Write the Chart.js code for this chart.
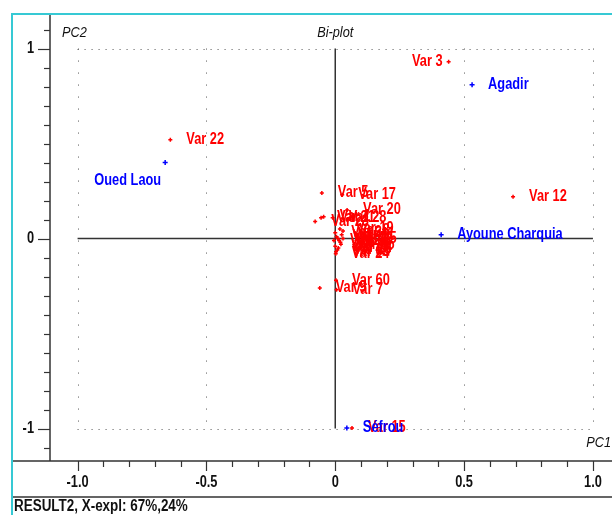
<!DOCTYPE html>
<html>
<head>
<meta charset="utf-8">
<script src="https://cdn.jsdelivr.net/npm/chart.js@4.4.0/dist/chart.umd.min.js"></script>
<style>
  html, body { margin: 0; padding: 0; background: #fff; }
  canvas { display: block; }
</style>
</head>
<body>
<canvas id="biplot" width="612" height="515"></canvas>
<script>
const objNames = ['Agadir', 'Oued Laou', 'Ayoune Charquia', 'Séfrou']
const objPC1 = [0.531, -0.66, 0.411, 0.045]
const objPC2 = [0.81, 0.40, 0.02, -0.997]

const varNames = ['Var 3', 'Var 22', 'Var 12', 'Var 15', 'Var 5', 'Var 17', 'Var 20', 'Var 23',
  'Var 21', 'Var 28', 'Var 1', 'Var 9', 'Var 60', 'Var 7', 'Var 63',
  'Var 2', 'Var 4', 'Var 6', 'Var 8', 'Var 10', 'Var 11', 'Var 13', 'Var 14', 'Var 16',
  'Var 18', 'Var 19', 'Var 24', 'Var 25', 'Var 26', 'Var 27']
const varPC1 = [0.44, -0.64, 0.69, 0.065, -0.052, 0.027, 0.046, -0.078,
  -0.055, -0.01, -0.045, -0.06, 0.003, 0.005, 0.003,
  0.0, 0.01, 0.02, 0.03, 0.015, 0.025, 0.0, 0.012, 0.022,
  0.005, 0.018, 0.002, 0.03, 0.008, -0.005]
const varPC2 = [0.93, 0.52, 0.22, -0.997, 0.24, 0.23, 0.15, 0.09,
  0.11, 0.11, 0.115, -0.26, -0.22, -0.27, -0.07,
  0.03, 0.0, -0.02, 0.04, -0.01, 0.02, -0.04, -0.05, -0.03,
  0.01, 0.05, -0.08, 0.0, -0.06, -0.01]

const xMajor = [-1.0, -0.5, 0, 0.5, 1.0]
const xMajorLabels = ['-1.0', '-0.5', '0', '0.5', '1.0']
const yMajor = [1, 0, -1]
const yMajorLabels = ['1', '0', '-1']

const toPoints = (xs, ys) => xs.map((x, i) => ({ x: x, y: ys[i] }))

const FONT = "'Liberation Sans', Arial, sans-serif"
const SQUEEZE = 0.8

// labels go right of the point unless noted
const leftLabels = { 'Var 3': [-6, 0], 'Oued Laou': [-4, 18] }

// the original uses a narrow face, so squeeze the text horizontally
function narrowText(ctx, text, x, y, align, sx) {
  const w = ctx.measureText(text).width * sx
  let left = x
  if (align === 'center') left = x - w / 2
  if (align === 'right') left = x - w
  ctx.save()
  ctx.translate(left, y)
  ctx.scale(sx, 1)
  ctx.textAlign = 'left'
  ctx.fillText(text, 0, 0)
  ctx.restore()
}

const biplotFrame = {
  id: 'biplotFrame',
  beforeDatasetsDraw(chart) {
    const ctx = chart.ctx
    const xs = chart.scales.x
    const ys = chart.scales.y
    const a = chart.chartArea
    const px = v => xs.getPixelForValue(v)
    const py = v => ys.getPixelForValue(v)
    ctx.save()

    // dotted grid
    ctx.strokeStyle = '#555'
    ctx.lineWidth = 1
    ctx.setLineDash([1, 11])
    ;[-1, -0.5, 0.5, 1].forEach(v => {
      ctx.beginPath()
      ctx.moveTo(Math.round(px(v)) + 0.5, py(1))
      ctx.lineTo(Math.round(px(v)) + 0.5, py(-1))
      ctx.stroke()
    })
    ctx.setLineDash([1, 6])
    ;[1, -1].forEach(v => {
      ctx.beginPath()
      ctx.moveTo(px(-1), Math.round(py(v)) + 0.5)
      ctx.lineTo(px(1), Math.round(py(v)) + 0.5)
      ctx.stroke()
    })
    ctx.setLineDash([])

    // solid axes through origin
    ctx.strokeStyle = '#333'
    ctx.lineWidth = 1.5
    ctx.beginPath()
    ctx.moveTo(px(-1), py(0))
    ctx.lineTo(px(1), py(0))
    ctx.moveTo(px(0), py(1))
    ctx.lineTo(px(0), py(-1))
    ctx.stroke()

    // frame
    ctx.beginPath()
    ctx.moveTo(a.left, a.top)
    ctx.lineTo(a.left, a.bottom)
    ctx.moveTo(12, a.bottom)
    ctx.lineTo(612, a.bottom)
    ctx.moveTo(12, 497)
    ctx.lineTo(612, 497)
    ctx.stroke()

    ctx.strokeStyle = '#36c9d4'
    ctx.lineWidth = 2
    ctx.beginPath()
    ctx.moveTo(12, 515)
    ctx.lineTo(12, a.top)
    ctx.lineTo(612, a.top)
    ctx.stroke()

    // ticks, minor every 0.1
    ctx.strokeStyle = '#333'
    ctx.lineWidth = 1.2
    for (let i = -12; i <= 12; i++) {
      const v = i / 10
      const x = px(v)
      if (x > a.left + 2 && x < a.right) {
        ctx.beginPath()
        ctx.moveTo(Math.round(x) + 0.5, a.bottom)
        ctx.lineTo(Math.round(x) + 0.5, a.bottom + (i % 5 === 0 ? 10 : 6))
        ctx.stroke()
      }
      const y = py(v)
      if (y > a.top + 2 && y < a.bottom - 2) {
        ctx.beginPath()
        ctx.moveTo(a.left, Math.round(y) + 0.5)
        ctx.lineTo(a.left - (i % 10 === 0 ? 12 : 6), Math.round(y) + 0.5)
        ctx.stroke()
      }
    }

    ctx.fillStyle = '#111'
    ctx.font = 'bold 16px ' + FONT
    ctx.textBaseline = 'middle'
    xMajor.forEach((v, i) => narrowText(ctx, xMajorLabels[i], px(v), 483, 'center', SQUEEZE))
    yMajor.forEach((v, i) => narrowText(ctx, yMajorLabels[i], 34, py(v), 'right', SQUEEZE))

    ctx.font = 'bold 16px ' + FONT
    narrowText(ctx, 'RESULT2, X-expl: 67%,24%', 14, 507, 'left', 0.84)

    ctx.font = 'italic 15px ' + FONT
    narrowText(ctx, 'PC2', 62, 33, 'left', 0.85)
    narrowText(ctx, 'Bi-plot', px(0), 33, 'center', 0.85)
    narrowText(ctx, 'PC1', 611, 443, 'right', 0.85)
    ctx.restore()
  },
  afterDatasetsDraw(chart) {
    const ctx = chart.ctx
    ctx.save()
    ctx.font = 'bold 16px ' + FONT
    ctx.textBaseline = 'middle'
    chart.data.datasets.forEach((ds, di) => {
      const meta = chart.getDatasetMeta(di)
      ctx.fillStyle = ds.borderColor
      meta.data.forEach((pt, i) => {
        const name = ds.names[i]
        const off = leftLabels[name]
        if (off) {
          narrowText(ctx, name, pt.x + off[0], pt.y + off[1], 'right', SQUEEZE)
        } else {
          narrowText(ctx, name, pt.x + 16, pt.y, 'left', SQUEEZE)
        }
      })
    })
    ctx.restore()
  }
}

const ctx = document.getElementById('biplot')

const biplot = new Chart(ctx, {
  type: 'scatter',
  data: {
    datasets: [
      {
        label: 'Variables',
        names: varNames,
        data: toPoints(varPC1, varPC2),
        borderColor: '#ff0000',
        backgroundColor: '#ff0000',
        pointStyle: 'cross',
        pointRadius: 2,
        borderWidth: 1.5
      },
      {
        label: 'Objects',
        names: objNames,
        data: toPoints(objPC1, objPC2),
        borderColor: '#0000ff',
        backgroundColor: '#0000ff',
        pointStyle: 'cross',
        pointRadius: 2.5,
        borderWidth: 1.5
      }
    ]
  },
  options: {
    responsive: false,
    animation: false,
    layout: {
      autoPadding: false,
      padding: { left: 50, top: 14, right: 0, bottom: 54 }
    },
    scales: {
      x: { type: 'linear', min: -1.107, max: 1.074, display: false },
      y: { type: 'linear', min: -1.171, max: 1.182, display: false }
    },
    plugins: {
      legend: { display: false },
      tooltip: { enabled: false },
      title: { display: false }
    }
  },
  plugins: [biplotFrame]
})
</script>
</body>
</html>
